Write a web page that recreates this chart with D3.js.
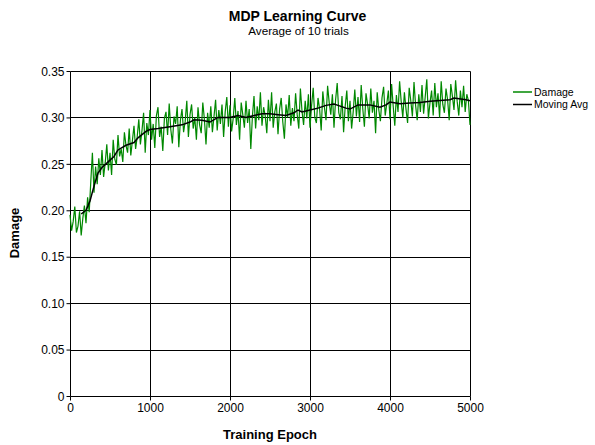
<!DOCTYPE html>
<html lang="en">
    <head>
        <meta charset="utf-8">
        <title>MDP Learning Curve</title>
        <script src="https://d3js.org/d3.v7.min.js"></script>
        <style type="text/css">
            body{
                margin: 0;
                background: white;
            }
            text{
                font-family: "Liberation Sans", Arial, sans-serif;
            }
        </style>
    </head>
    <body>
        <svg width="595" height="445"></svg>
        <script type="text/javascript">

            // raw series, one value every 20 epochs
            const epochStep = 20;
            const damage = [
                0.195,0.178,0.188,0.204,0.176,0.183,0.199,0.173,0.191,0.205,
                0.186,0.214,0.198,0.231,0.262,0.219,0.247,0.228,0.256,0.238,
                0.265,0.236,0.251,0.271,0.243,0.262,0.238,0.276,0.255,0.249,
                0.281,0.258,0.266,0.252,0.284,0.270,0.262,0.288,0.259,0.275,
                0.291,0.266,0.279,0.298,0.271,0.286,0.305,0.262,0.294,0.281,
                0.308,0.276,0.293,0.267,0.302,0.311,0.279,0.290,0.264,0.299,
                0.306,0.281,0.315,0.287,0.272,0.301,0.293,0.312,0.268,0.297,
                0.309,0.284,0.296,0.318,0.279,0.303,0.314,0.288,0.300,0.276,
                0.311,0.292,0.283,0.316,0.298,0.271,0.305,0.289,0.312,0.284,
                0.301,0.319,0.286,0.308,0.293,0.314,0.279,0.306,0.322,0.290,
                0.313,0.285,0.299,0.321,0.292,0.307,0.276,0.316,0.303,0.289,
                0.318,0.294,0.309,0.266,0.301,0.323,0.288,0.312,0.297,0.327,
                0.291,0.311,0.302,0.283,0.319,0.296,0.327,0.289,0.306,0.315,
                0.282,0.309,0.321,0.295,0.277,0.314,0.300,0.324,0.291,0.310,
                0.296,0.326,0.303,0.288,0.331,0.307,0.292,0.318,0.299,0.325,
                0.289,0.313,0.332,0.300,0.294,0.321,0.309,0.286,0.328,0.311,
                0.297,0.334,0.316,0.303,0.325,0.289,0.319,0.337,0.305,0.298,
                0.323,0.284,0.312,0.329,0.296,0.318,0.288,0.306,0.330,0.301,
                0.322,0.295,0.335,0.309,0.290,0.326,0.314,0.299,0.331,0.305,
                0.318,0.283,0.327,0.308,0.296,0.321,0.333,0.302,0.315,0.329,
                0.298,0.336,0.312,0.291,0.324,0.306,0.339,0.317,0.300,0.327,
                0.309,0.294,0.332,0.318,0.301,0.338,0.313,0.297,0.325,0.306,
                0.335,0.304,0.322,0.341,0.299,0.316,0.329,0.302,0.337,0.311,
                0.326,0.300,0.339,0.314,0.305,0.331,0.319,0.297,0.336,0.323,
                0.308,0.340,0.317,0.302,0.329,0.311,0.334,0.306,0.325,0.318,
                0.292
            ];

            // moving average
            const avgEpochs = [140,200,250,300,350,400,450,500,550,600,700,800,850,950,1000,1100,1250,1400,1500,1550,
                               1650,1750,1850,2000,2100,2200,2250,2400,2500,2600,2700,2800,2850,2900,3000,3100,3200,3300,3350,3450,
                               3500,3600,3750,3875,3950,4000,4125,4250,4375,4500,4625,4750,4800,4950,5000];
            const avgValues = [0.196,0.200,0.210,0.226,0.240,0.246,0.250,0.254,0.258,0.265,0.270,0.273,0.278,0.285,0.287,0.288,0.290,0.292,0.295,0.2975,
                               0.297,0.295,0.300,0.300,0.302,0.300,0.301,0.304,0.304,0.303,0.302,0.305,0.308,0.306,0.308,0.310,0.313,0.3145,0.313,0.310,
                               0.309,0.3135,0.3135,0.311,0.3135,0.3165,0.3147,0.3155,0.316,0.3175,0.3183,0.319,0.3208,0.319,0.318];

            const xTicks = [0,1000,2000,3000,4000,5000];
            const yTicks = [0,0.05,0.10,0.15,0.20,0.25,0.30,0.35];
            const seriesNames = ["Damage","Moving Avg"];
            const seriesColors = ["#008800","#000000"];

            const svg = d3.select("svg");
            const plotLeft = 70, plotRight = 470, plotTop = 71, plotBottom = 396;

            const x = d3.scaleLinear().domain([0,5000]).range([plotLeft,plotRight]);
            const y = d3.scaleLinear().domain([0,0.35]).range([plotBottom,plotTop]);

            // grid
            svg.append("g")
               .selectAll("line")
               .data(xTicks)
               .join("line")
               .attr("x1", d=>Math.round(x(d))+0.5)
               .attr("x2", d=>Math.round(x(d))+0.5)
               .attr("y1", plotTop+0.5)
               .attr("y2", plotBottom+0.5)
               .attr("stroke", "black");

            svg.append("g")
               .selectAll("line")
               .data(yTicks)
               .join("line")
               .attr("x1", plotLeft+0.5)
               .attr("x2", plotRight+0.5)
               .attr("y1", d=>Math.round(y(d))+0.5)
               .attr("y2", d=>Math.round(y(d))+0.5)
               .attr("stroke", "black");

            // axes
            const yAxis = d3.axisLeft(y)
                            .tickValues(yTicks)
                            .tickSize(4)
                            .tickSizeOuter(0)
                            .tickFormat(d => d === 0 ? "0" : d3.format(".2f")(d));
            const xAxis = d3.axisBottom(x)
                            .tickValues(xTicks)
                            .tickSize(4)
                            .tickSizeOuter(0)
                            .tickFormat(d3.format("d"));

            const gy = svg.append("g").attr("transform", `translate(${plotLeft+0.5},0)`).call(yAxis);
            const gx = svg.append("g").attr("transform", `translate(0,${plotBottom+0.5})`).call(xAxis);
            [gy,gx].forEach(g => {
                g.select(".domain").remove();
                g.selectAll("line").attr("stroke", "black");
                g.selectAll("text").attr("font-size", 12).attr("fill", "black")
                 .attr("font-family", "'Liberation Sans', Arial, sans-serif");
            });
            gy.selectAll("text").attr("x", -6).attr("dy", "0.35em");
            gx.selectAll("text").attr("y", 7);

            // data lines
            const line = d3.line().x(d=>x(d[0])).y(d=>y(d[1]));

            svg.append("path")
               .datum(damage.map((v,i)=>[i*epochStep, v]))
               .attr("d", line)
               .attr("fill", "none")
               .attr("stroke", seriesColors[0])
               .attr("stroke-width", 1.2);

            svg.append("path")
               .datum(avgEpochs.map((e,i)=>[e, avgValues[i]]))
               .attr("d", line)
               .attr("fill", "none")
               .attr("stroke", seriesColors[1])
               .attr("stroke-width", 1.5);

            // titles
            svg.append("text").attr("x", 297.5).attr("y", 21).attr("text-anchor", "middle")
               .attr("font-size", 14).attr("font-weight", "bold").text("MDP Learning Curve");
            svg.append("text").attr("x", 298.5).attr("y", 35).attr("text-anchor", "middle")
               .attr("font-size", 11.7).text("Average of 10 trials");
            svg.append("text").attr("x", 270).attr("y", 439).attr("text-anchor", "middle")
               .attr("font-size", 13).attr("font-weight", "bold").text("Training Epoch");
            svg.append("text").attr("transform", "translate(19,233) rotate(-90)").attr("text-anchor", "middle")
               .attr("font-size", 13).attr("font-weight", "bold").text("Damage");

            // legend
            const legend = svg.append("g")
                              .selectAll("g")
                              .data(seriesNames)
                              .join("g")
                              .attr("transform", (d,i)=>`translate(513,${92+i*12.5})`);
            legend.append("line")
                  .attr("x1", 0).attr("x2", 19)
                  .attr("stroke", (d,i)=>seriesColors[i])
                  .attr("stroke-width", 1.5);
            legend.append("text")
                  .attr("x", 21).attr("y", 3.5)
                  .attr("font-size", 10.5)
                  .text(d=>d);

        </script>
    </body>
</html>
